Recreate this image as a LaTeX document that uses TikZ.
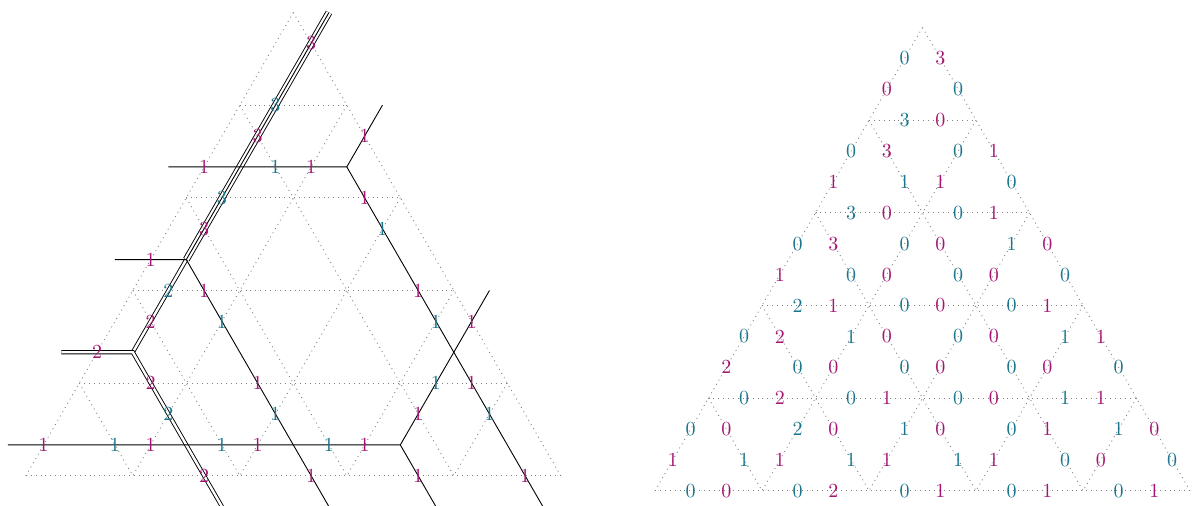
\documentclass[tikz,border=0pt]{standalone}
\usepackage{tikz}
\definecolor{tl}{RGB}{25,118,140}
\definecolor{mg}{RGB}{165,20,115}
\tikzset{
  gridline/.style={black!50, dotted, line width=0.45pt},
  curve/.style={black, line width=0.45pt},
  mult2/.style={black, line width=0.45pt, double=white, double distance=1.2pt},
  mult3/.style={black, line width=0.45pt, double=white, double distance=2.6pt},
  lab/.style={inner sep=0pt},
  tlab/.style={lab, text=tl},
  mlab/.style={lab, text=mg},
  lattice/.style={x={(-26.75pt,-46.33pt)}, y={(26.75pt,-46.33pt)}}
}
\newcommand\mytrigrid{%
  \foreach \i in {1,...,5}{\draw[gridline] (\i,0) -- (0,\i);}
  \foreach \j in {0,...,4}{%
    \draw[gridline] (0,\j) -- ({5-\j},\j);
    \draw[gridline] (\j,0) -- (\j,{5-\j});
  }}
\newcommand\mydata{0/0/0/0/3/0/0/3, 1/0/0/1/3/0/1/3, 1/1/0/1/0/1/0/1,
  2/0/0/1/2/1/0/3, 2/1/0/0/0/0/0/0, 2/2/1/0/0/1/0/0,
  3/0/0/2/0/2/0/2, 3/1/1/0/0/1/0/0, 3/2/0/0/0/0/0/0, 3/3/1/0/1/1/0/1,
  4/0/0/1/0/0/1/0, 4/1/2/1/0/2/1/0, 4/2/1/1/0/1/1/0, 4/3/0/1/0/1/0/1, 4/4/1/0/0/1/0/0}
\begin{document}
\begin{tikzpicture}[x=0.5pt, y=-0.5pt]
\useasboundingbox (0,0) rectangle (1192,506);

% ---------------- left: tropical curve ----------------
\begin{scope}[shift={(293.3,12.5)}, lattice]
  \mytrigrid
  \coordinate (V1) at (7/3,1/3);
  \coordinate (V2) at (10/3,1/3);
  \coordinate (V3) at (4/3,10/3);
  \coordinate (V4) at (1/3,4/3);
  \coordinate (T3) at (-1/3,1/3);
  \coordinate (H1) at (3,-1/3);
  \coordinate (D1) at (7/3,3);
  \coordinate (H2) at (4,-1/3);
  \coordinate (D2) at (10/3,2);
  \coordinate (H3) at (5,-1/3);
  \coordinate (U3) at (-1/3,10/3);
  \coordinate (D3) at (4/3,4);
  \coordinate (H4) at (2,-1/3);
  \coordinate (U4) at (-1/3,4/3);
  \coordinate (D4) at (1/3,5);
  \draw[mult3] (T3) -- (V1);
  \draw[curve] (T3) -- (V1);
  \draw[mult2] (V1) -- (V2);
  \draw[mult2] (H2) -- (V2) -- (D2);
  \draw[curve] (H1) -- (V1) -- (D1);
  \draw[curve] (H3) -- (V3) -- (U3);
  \draw[curve] (V3) -- (D3);
  \draw[curve] (H4) -- (V4) -- (U4);
  \draw[curve] (V4) -- (D4);
  \foreach \r/\k/\lt/\lm/\bt/\bm/\rt/\mr in \mydata {
    \ifnum\lt>0 \node[tlab] (L-\r-\k-lt) at ({\r-\k+1/3},\k) {\lt};\fi
    \ifnum\lm>0 \node[mlab] (L-\r-\k-lm) at ({\r-\k+2/3},\k) {\lm};\fi
    \ifnum\bt>0 \node[tlab] (L-\r-\k-bt) at ({\r-\k+2/3},{\k+1/3}) {\bt};\fi
    \ifnum\bm>0 \node[mlab] (L-\r-\k-bm) at ({\r-\k+1/3},{\k+2/3}) {\bm};\fi
    \ifnum\rt>0 \node[tlab] (L-\r-\k-rt) at ({\r-\k},{\k+2/3}) {\rt};\fi
    \ifnum\mr>0 \node[mlab] (L-\r-\k-rm) at ({\r-\k},{\k+1/3}) {\mr};\fi
  }
\end{scope}

% ---------------- right: all edge labels ----------------
\begin{scope}[shift={(922.5,27.5)}, lattice]
  \mytrigrid
  \foreach \r/\k/\lt/\lm/\bt/\bm/\rt/\mr in \mydata {
    \node[tlab] (R-\r-\k-lt) at ({\r-\k+1/3},\k) {\lt};
    \node[mlab] (R-\r-\k-lm) at ({\r-\k+2/3},\k) {\lm};
    \node[tlab] (R-\r-\k-bt) at ({\r-\k+2/3},{\k+1/3}) {\bt};
    \node[mlab] (R-\r-\k-bm) at ({\r-\k+1/3},{\k+2/3}) {\bm};
    \node[tlab] (R-\r-\k-rt) at ({\r-\k},{\k+2/3}) {\rt};
    \node[mlab] (R-\r-\k-rm) at ({\r-\k},{\k+1/3}) {\mr};
  }
\end{scope}
\end{tikzpicture}
\end{document}
